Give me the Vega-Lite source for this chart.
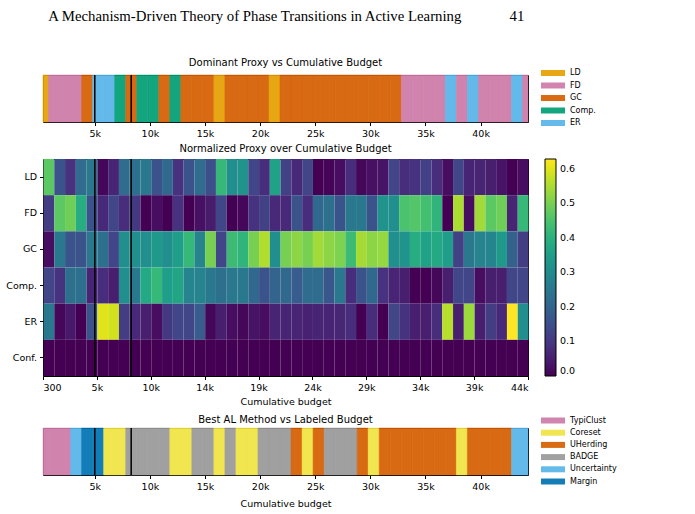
{
  "$schema": "https://vega.github.io/schema/vega-lite/v6.json",
  "background": "white",
  "padding": {"left": 5, "top": 8, "right": 5, "bottom": 5},
  "title": {
    "text": "A Mechanism-Driven Theory of Phase Transitions in Active Learning\u00a0\u00a0\u00a0\u00a0\u00a0\u00a0\u00a0\u00a0\u00a0\u00a0\u00a0\u00a0\u00a041",
    "font": "Liberation Serif",
    "fontSize": 14.8,
    "fontWeight": "normal",
    "color": "black",
    "anchor": "start",
    "offset": 34,
    "dx": 43
  },
  "config": {
    "font": "DejaVu Sans",
    "view": {"stroke": "black", "strokeWidth": 1},
    "axis": {
      "labelFont": "DejaVu Sans", "labelFontSize": 9.5, "labelColor": "black",
      "tickColor": "black", "tickSize": 3.5, "labelPadding": 3,
      "domain": false, "grid": false,
      "titleFont": "DejaVu Sans", "titleFontSize": 9.5, "titleFontWeight": "normal", "titleColor": "black", "titlePadding": 5
    },
    "title": {"font": "DejaVu Sans", "fontSize": 10, "fontWeight": "normal", "color": "black", "offset": 5},
    "legend": {"labelFont": "DejaVu Sans", "labelColor": "black"}
  },
  "datasets": {
    "proxyStrip": [
      {"from": 300, "to": 800, "proxy": "LD"},
      {"from": 800, "to": 1800, "proxy": "FD"},
      {"from": 1800, "to": 2800, "proxy": "FD"},
      {"from": 2800, "to": 3800, "proxy": "FD"},
      {"from": 3800, "to": 4800, "proxy": "GC"},
      {"from": 4800, "to": 5800, "proxy": "ER"},
      {"from": 5800, "to": 6800, "proxy": "ER"},
      {"from": 6800, "to": 7800, "proxy": "Comp."},
      {"from": 7800, "to": 8800, "proxy": "GC"},
      {"from": 8800, "to": 9800, "proxy": "Comp."},
      {"from": 9800, "to": 10800, "proxy": "Comp."},
      {"from": 10800, "to": 11800, "proxy": "GC"},
      {"from": 11800, "to": 12800, "proxy": "Comp."},
      {"from": 12800, "to": 13800, "proxy": "GC"},
      {"from": 13800, "to": 14800, "proxy": "GC"},
      {"from": 14800, "to": 15800, "proxy": "GC"},
      {"from": 15800, "to": 16800, "proxy": "LD"},
      {"from": 16800, "to": 17800, "proxy": "GC"},
      {"from": 17800, "to": 18800, "proxy": "GC"},
      {"from": 18800, "to": 19800, "proxy": "GC"},
      {"from": 19800, "to": 20800, "proxy": "GC"},
      {"from": 20800, "to": 21800, "proxy": "LD"},
      {"from": 21800, "to": 22800, "proxy": "GC"},
      {"from": 22800, "to": 23800, "proxy": "GC"},
      {"from": 23800, "to": 24800, "proxy": "GC"},
      {"from": 24800, "to": 25800, "proxy": "GC"},
      {"from": 25800, "to": 26800, "proxy": "GC"},
      {"from": 26800, "to": 27800, "proxy": "GC"},
      {"from": 27800, "to": 28800, "proxy": "GC"},
      {"from": 28800, "to": 29800, "proxy": "GC"},
      {"from": 29800, "to": 30800, "proxy": "GC"},
      {"from": 30800, "to": 31800, "proxy": "GC"},
      {"from": 31800, "to": 32800, "proxy": "GC"},
      {"from": 32800, "to": 33800, "proxy": "FD"},
      {"from": 33800, "to": 34800, "proxy": "FD"},
      {"from": 34800, "to": 35800, "proxy": "FD"},
      {"from": 35800, "to": 36800, "proxy": "FD"},
      {"from": 36800, "to": 37800, "proxy": "ER"},
      {"from": 37800, "to": 38800, "proxy": "FD"},
      {"from": 38800, "to": 39800, "proxy": "ER"},
      {"from": 39800, "to": 40800, "proxy": "FD"},
      {"from": 40800, "to": 41800, "proxy": "FD"},
      {"from": 41800, "to": 42800, "proxy": "FD"},
      {"from": 42800, "to": 43800, "proxy": "ER"},
      {"from": 43800, "to": 44300, "proxy": "FD"}
    ],
    "methodStrip": [
      {"from": 300, "to": 800, "method": "TypiClust"},
      {"from": 800, "to": 1800, "method": "TypiClust"},
      {"from": 1800, "to": 2800, "method": "TypiClust"},
      {"from": 2800, "to": 3800, "method": "Uncertainty"},
      {"from": 3800, "to": 4800, "method": "Margin"},
      {"from": 4800, "to": 5800, "method": "Margin"},
      {"from": 5800, "to": 6800, "method": "Coreset"},
      {"from": 6800, "to": 7800, "method": "Coreset"},
      {"from": 7800, "to": 8800, "method": "BADGE"},
      {"from": 8800, "to": 9800, "method": "BADGE"},
      {"from": 9800, "to": 10800, "method": "BADGE"},
      {"from": 10800, "to": 11800, "method": "BADGE"},
      {"from": 11800, "to": 12800, "method": "Coreset"},
      {"from": 12800, "to": 13800, "method": "Coreset"},
      {"from": 13800, "to": 14800, "method": "BADGE"},
      {"from": 14800, "to": 15800, "method": "BADGE"},
      {"from": 15800, "to": 16800, "method": "Coreset"},
      {"from": 16800, "to": 17800, "method": "BADGE"},
      {"from": 17800, "to": 18800, "method": "Coreset"},
      {"from": 18800, "to": 19800, "method": "Coreset"},
      {"from": 19800, "to": 20800, "method": "BADGE"},
      {"from": 20800, "to": 21800, "method": "BADGE"},
      {"from": 21800, "to": 22800, "method": "BADGE"},
      {"from": 22800, "to": 23800, "method": "UHerding"},
      {"from": 23800, "to": 24800, "method": "Coreset"},
      {"from": 24800, "to": 25800, "method": "UHerding"},
      {"from": 25800, "to": 26800, "method": "BADGE"},
      {"from": 26800, "to": 27800, "method": "BADGE"},
      {"from": 27800, "to": 28800, "method": "BADGE"},
      {"from": 28800, "to": 29800, "method": "UHerding"},
      {"from": 29800, "to": 30800, "method": "Coreset"},
      {"from": 30800, "to": 31800, "method": "UHerding"},
      {"from": 31800, "to": 32800, "method": "UHerding"},
      {"from": 32800, "to": 33800, "method": "UHerding"},
      {"from": 33800, "to": 34800, "method": "UHerding"},
      {"from": 34800, "to": 35800, "method": "UHerding"},
      {"from": 35800, "to": 36800, "method": "UHerding"},
      {"from": 36800, "to": 37800, "method": "UHerding"},
      {"from": 37800, "to": 38800, "method": "Coreset"},
      {"from": 38800, "to": 39800, "method": "UHerding"},
      {"from": 39800, "to": 40800, "method": "UHerding"},
      {"from": 40800, "to": 41800, "method": "UHerding"},
      {"from": 41800, "to": 42800, "method": "UHerding"},
      {"from": 42800, "to": 43800, "method": "Uncertainty"},
      {"from": 43800, "to": 44300, "method": "Uncertainty"}
    ],
    "phases": [{"budget": 5000}, {"budget": 8300}],
    "phasesIdx": [{"i": 4.81}, {"i": 8.18}],
    "heat": [
      {"i":0,"proxy":"LD","v":0.47},{"i":1,"proxy":"LD","v":0.16},{"i":2,"proxy":"LD","v":0.09},{"i":3,"proxy":"LD","v":0.22},{"i":4,"proxy":"LD","v":0.25},
      {"i":5,"proxy":"LD","v":0.01},{"i":6,"proxy":"LD","v":0.06},{"i":7,"proxy":"LD","v":0.22},{"i":8,"proxy":"LD","v":0.23},{"i":9,"proxy":"LD","v":0.25},
      {"i":10,"proxy":"LD","v":0.16},{"i":11,"proxy":"LD","v":0.21},{"i":12,"proxy":"LD","v":0.09},{"i":13,"proxy":"LD","v":0.16},{"i":14,"proxy":"LD","v":0.22},
      {"i":15,"proxy":"LD","v":0.15},{"i":16,"proxy":"LD","v":0.42},{"i":17,"proxy":"LD","v":0.31},{"i":18,"proxy":"LD","v":0.32},{"i":19,"proxy":"LD","v":0.13},
      {"i":20,"proxy":"LD","v":0.08},{"i":21,"proxy":"LD","v":0.36},{"i":22,"proxy":"LD","v":0.12},{"i":23,"proxy":"LD","v":0.07},{"i":24,"proxy":"LD","v":0.13},
      {"i":25,"proxy":"LD","v":0.0},{"i":26,"proxy":"LD","v":0.005},{"i":27,"proxy":"LD","v":0.02},{"i":28,"proxy":"LD","v":0.08},{"i":29,"proxy":"LD","v":0.01},
      {"i":30,"proxy":"LD","v":0.025},{"i":31,"proxy":"LD","v":0.03},{"i":32,"proxy":"LD","v":0.13},{"i":33,"proxy":"LD","v":0.08},{"i":34,"proxy":"LD","v":0.09},
      {"i":35,"proxy":"LD","v":0.12},{"i":36,"proxy":"LD","v":0.08},{"i":37,"proxy":"LD","v":0.02},{"i":38,"proxy":"LD","v":0.13},{"i":39,"proxy":"LD","v":0.06},
      {"i":40,"proxy":"LD","v":0.06},{"i":41,"proxy":"LD","v":0.05},{"i":42,"proxy":"LD","v":0.03},{"i":43,"proxy":"LD","v":0.0},{"i":44,"proxy":"LD","v":0.02},

      {"i":0,"proxy":"FD","v":0.11},{"i":1,"proxy":"FD","v":0.47},{"i":2,"proxy":"FD","v":0.49},{"i":3,"proxy":"FD","v":0.39},{"i":4,"proxy":"FD","v":0.16},
      {"i":5,"proxy":"FD","v":0.07},{"i":6,"proxy":"FD","v":0.13},{"i":7,"proxy":"FD","v":0.08},{"i":8,"proxy":"FD","v":0.10},{"i":9,"proxy":"FD","v":0.0},
      {"i":10,"proxy":"FD","v":0.02},{"i":11,"proxy":"FD","v":0.0},{"i":12,"proxy":"FD","v":0.09},{"i":13,"proxy":"FD","v":0.0},{"i":14,"proxy":"FD","v":0.025},
      {"i":15,"proxy":"FD","v":0.045},{"i":16,"proxy":"FD","v":0.13},{"i":17,"proxy":"FD","v":0.0},{"i":18,"proxy":"FD","v":0.01},{"i":19,"proxy":"FD","v":0.09},
      {"i":20,"proxy":"FD","v":0.12},{"i":21,"proxy":"FD","v":0.07},{"i":22,"proxy":"FD","v":0.07},{"i":23,"proxy":"FD","v":0.16},{"i":24,"proxy":"FD","v":0.08},
      {"i":25,"proxy":"FD","v":0.21},{"i":26,"proxy":"FD","v":0.23},{"i":27,"proxy":"FD","v":0.16},{"i":28,"proxy":"FD","v":0.25},{"i":29,"proxy":"FD","v":0.25},
      {"i":30,"proxy":"FD","v":0.16},{"i":31,"proxy":"FD","v":0.32},{"i":32,"proxy":"FD","v":0.31},{"i":33,"proxy":"FD","v":0.45},{"i":34,"proxy":"FD","v":0.46},
      {"i":35,"proxy":"FD","v":0.44},{"i":36,"proxy":"FD","v":0.41},{"i":37,"proxy":"FD","v":0.0},{"i":38,"proxy":"FD","v":0.55},{"i":39,"proxy":"FD","v":0.02},
      {"i":40,"proxy":"FD","v":0.54},{"i":41,"proxy":"FD","v":0.47},{"i":42,"proxy":"FD","v":0.49},{"i":43,"proxy":"FD","v":0.06},{"i":44,"proxy":"FD","v":0.42},

      {"i":0,"proxy":"GC","v":0.02},{"i":1,"proxy":"GC","v":0.25},{"i":2,"proxy":"GC","v":0.16},{"i":3,"proxy":"GC","v":0.16},{"i":4,"proxy":"GC","v":0.25},
      {"i":5,"proxy":"GC","v":0.23},{"i":6,"proxy":"GC","v":0.13},{"i":7,"proxy":"GC","v":0.31},{"i":8,"proxy":"GC","v":0.31},{"i":9,"proxy":"GC","v":0.31},
      {"i":10,"proxy":"GC","v":0.34},{"i":11,"proxy":"GC","v":0.31},{"i":12,"proxy":"GC","v":0.35},{"i":13,"proxy":"GC","v":0.42},{"i":14,"proxy":"GC","v":0.28},
      {"i":15,"proxy":"GC","v":0.5},{"i":16,"proxy":"GC","v":0.13},{"i":17,"proxy":"GC","v":0.43},{"i":18,"proxy":"GC","v":0.41},{"i":19,"proxy":"GC","v":0.5},
      {"i":20,"proxy":"GC","v":0.555},{"i":21,"proxy":"GC","v":0.31},{"i":22,"proxy":"GC","v":0.5},{"i":23,"proxy":"GC","v":0.52},{"i":24,"proxy":"GC","v":0.5},
      {"i":25,"proxy":"GC","v":0.54},{"i":26,"proxy":"GC","v":0.52},{"i":27,"proxy":"GC","v":0.505},{"i":28,"proxy":"GC","v":0.43},{"i":29,"proxy":"GC","v":0.545},
      {"i":30,"proxy":"GC","v":0.52},{"i":31,"proxy":"GC","v":0.53},{"i":32,"proxy":"GC","v":0.31},{"i":33,"proxy":"GC","v":0.32},{"i":34,"proxy":"GC","v":0.39},
      {"i":35,"proxy":"GC","v":0.36},{"i":36,"proxy":"GC","v":0.38},{"i":37,"proxy":"GC","v":0.35},{"i":38,"proxy":"GC","v":0.12},{"i":39,"proxy":"GC","v":0.25},
      {"i":40,"proxy":"GC","v":0.28},{"i":41,"proxy":"GC","v":0.28},{"i":42,"proxy":"GC","v":0.34},{"i":43,"proxy":"GC","v":0.19},{"i":44,"proxy":"GC","v":0.11},

      {"i":0,"proxy":"Comp.","v":0.13},{"i":1,"proxy":"Comp.","v":0.09},{"i":2,"proxy":"Comp.","v":0.23},{"i":3,"proxy":"Comp.","v":0.23},{"i":4,"proxy":"Comp.","v":0.06},
      {"i":5,"proxy":"Comp.","v":0.08},{"i":6,"proxy":"Comp.","v":0.05},{"i":7,"proxy":"Comp.","v":0.31},{"i":8,"proxy":"Comp.","v":0.25},{"i":9,"proxy":"Comp.","v":0.38},
      {"i":10,"proxy":"Comp.","v":0.42},{"i":11,"proxy":"Comp.","v":0.35},{"i":12,"proxy":"Comp.","v":0.37},{"i":13,"proxy":"Comp.","v":0.28},{"i":14,"proxy":"Comp.","v":0.28},
      {"i":15,"proxy":"Comp.","v":0.25},{"i":16,"proxy":"Comp.","v":0.23},{"i":17,"proxy":"Comp.","v":0.25},{"i":18,"proxy":"Comp.","v":0.25},{"i":19,"proxy":"Comp.","v":0.21},
      {"i":20,"proxy":"Comp.","v":0.16},{"i":21,"proxy":"Comp.","v":0.2},{"i":22,"proxy":"Comp.","v":0.21},{"i":23,"proxy":"Comp.","v":0.18},{"i":24,"proxy":"Comp.","v":0.22},
      {"i":25,"proxy":"Comp.","v":0.22},{"i":26,"proxy":"Comp.","v":0.17},{"i":27,"proxy":"Comp.","v":0.25},{"i":28,"proxy":"Comp.","v":0.08},{"i":29,"proxy":"Comp.","v":0.16},
      {"i":30,"proxy":"Comp.","v":0.21},{"i":31,"proxy":"Comp.","v":0.09},{"i":32,"proxy":"Comp.","v":0.06},{"i":33,"proxy":"Comp.","v":0.05},{"i":34,"proxy":"Comp.","v":0.0},
      {"i":35,"proxy":"Comp.","v":0.0},{"i":36,"proxy":"Comp.","v":0.01},{"i":37,"proxy":"Comp.","v":0.05},{"i":38,"proxy":"Comp.","v":0.13},{"i":39,"proxy":"Comp.","v":0.13},
      {"i":40,"proxy":"Comp.","v":0.02},{"i":41,"proxy":"Comp.","v":0.05},{"i":42,"proxy":"Comp.","v":0.05},{"i":43,"proxy":"Comp.","v":0.13},{"i":44,"proxy":"Comp.","v":0.13},

      {"i":0,"proxy":"ER","v":0.25},{"i":1,"proxy":"ER","v":0.01},{"i":2,"proxy":"ER","v":0.04},{"i":3,"proxy":"ER","v":0.0},{"i":4,"proxy":"ER","v":0.16},
      {"i":5,"proxy":"ER","v":0.6},{"i":6,"proxy":"ER","v":0.585},{"i":7,"proxy":"ER","v":0.11},{"i":8,"proxy":"ER","v":0.07},{"i":9,"proxy":"ER","v":0.05},
      {"i":10,"proxy":"ER","v":0.02},{"i":11,"proxy":"ER","v":0.1},{"i":12,"proxy":"ER","v":0.13},{"i":13,"proxy":"ER","v":0.13},{"i":14,"proxy":"ER","v":0.18},
      {"i":15,"proxy":"ER","v":0.01},{"i":16,"proxy":"ER","v":0.05},{"i":17,"proxy":"ER","v":0.02},{"i":18,"proxy":"ER","v":0.01},{"i":19,"proxy":"ER","v":0.03},
      {"i":20,"proxy":"ER","v":0.02},{"i":21,"proxy":"ER","v":0.06},{"i":22,"proxy":"ER","v":0.06},{"i":23,"proxy":"ER","v":0.06},{"i":24,"proxy":"ER","v":0.055},
      {"i":25,"proxy":"ER","v":0.06},{"i":26,"proxy":"ER","v":0.06},{"i":27,"proxy":"ER","v":0.065},{"i":28,"proxy":"ER","v":0.08},{"i":29,"proxy":"ER","v":0.0},
      {"i":30,"proxy":"ER","v":0.08},{"i":31,"proxy":"ER","v":0.0},{"i":32,"proxy":"ER","v":0.13},{"i":33,"proxy":"ER","v":0.09},{"i":34,"proxy":"ER","v":0.05},
      {"i":35,"proxy":"ER","v":0.05},{"i":36,"proxy":"ER","v":0.08},{"i":37,"proxy":"ER","v":0.56},{"i":38,"proxy":"ER","v":0.05},{"i":39,"proxy":"ER","v":0.535},
      {"i":40,"proxy":"ER","v":0.05},{"i":41,"proxy":"ER","v":0.11},{"i":42,"proxy":"ER","v":0.07},{"i":43,"proxy":"ER","v":0.628},{"i":44,"proxy":"ER","v":0.31},

      {"i":0,"proxy":"Conf.","v":0},{"i":1,"proxy":"Conf.","v":0},{"i":2,"proxy":"Conf.","v":0},{"i":3,"proxy":"Conf.","v":0},{"i":4,"proxy":"Conf.","v":0},
      {"i":5,"proxy":"Conf.","v":0},{"i":6,"proxy":"Conf.","v":0},{"i":7,"proxy":"Conf.","v":0},{"i":8,"proxy":"Conf.","v":0},{"i":9,"proxy":"Conf.","v":0},
      {"i":10,"proxy":"Conf.","v":0},{"i":11,"proxy":"Conf.","v":0},{"i":12,"proxy":"Conf.","v":0},{"i":13,"proxy":"Conf.","v":0},{"i":14,"proxy":"Conf.","v":0},
      {"i":15,"proxy":"Conf.","v":0},{"i":16,"proxy":"Conf.","v":0},{"i":17,"proxy":"Conf.","v":0},{"i":18,"proxy":"Conf.","v":0},{"i":19,"proxy":"Conf.","v":0},
      {"i":20,"proxy":"Conf.","v":0},{"i":21,"proxy":"Conf.","v":0},{"i":22,"proxy":"Conf.","v":0},{"i":23,"proxy":"Conf.","v":0},{"i":24,"proxy":"Conf.","v":0},
      {"i":25,"proxy":"Conf.","v":0},{"i":26,"proxy":"Conf.","v":0},{"i":27,"proxy":"Conf.","v":0},{"i":28,"proxy":"Conf.","v":0},{"i":29,"proxy":"Conf.","v":0},
      {"i":30,"proxy":"Conf.","v":0},{"i":31,"proxy":"Conf.","v":0},{"i":32,"proxy":"Conf.","v":0},{"i":33,"proxy":"Conf.","v":0},{"i":34,"proxy":"Conf.","v":0},
      {"i":35,"proxy":"Conf.","v":0},{"i":36,"proxy":"Conf.","v":0},{"i":37,"proxy":"Conf.","v":0},{"i":38,"proxy":"Conf.","v":0},{"i":39,"proxy":"Conf.","v":0},
      {"i":40,"proxy":"Conf.","v":0},{"i":41,"proxy":"Conf.","v":0},{"i":42,"proxy":"Conf.","v":0},{"i":43,"proxy":"Conf.","v":0},{"i":44,"proxy":"Conf.","v":0}
    ]
  },
  "spacing": 4,
  "resolve": {"scale": {"color": "independent", "stroke": "independent", "x": "independent"}, "legend": {"color": "independent"}},
  "vconcat": [
    {
      "width": 485, "height": 47,
      "title": {"text": "Dominant Proxy vs Cumulative Budget", "offset": 1},
      "layer": [
        {
          "data": {"name": "proxyStrip"},
          "mark": {"type": "rect", "opacity": 0.92, "strokeWidth": 0.5},
          "encoding": {
            "x": {"field": "from", "type": "quantitative",
              "scale": {"domain": [300, 44300], "nice": false, "zero": false},
              "axis": {"values": [5000, 10000, 15000, 20000, 25000, 30000, 35000, 40000], "labelExpr": "datum.value / 1000 + 'k'", "title": null}},
            "x2": {"field": "to"},
            "color": {"field": "proxy", "type": "nominal",
              "scale": {"domain": ["LD", "FD", "GC", "Comp.", "ER"], "range": ["#E69F00", "#CC79A7", "#D55E00", "#009E73", "#56B4E9"]},
              "legend": {"title": null, "orient": "none", "legendX": 506, "legendY": -6,
                "symbolType": "M-4,-1H4V1H-4Z", "symbolSize": 36, "symbolStrokeWidth": 0, "symbolOpacity": 0.92,
                "labelFontSize": 8, "labelOffset": 13, "rowPadding": 4.5, "padding": 0}},
            "stroke": {"field": "proxy", "type": "nominal",
              "scale": {"domain": ["LD", "FD", "GC", "Comp.", "ER"], "range": ["#E69F00", "#CC79A7", "#D55E00", "#009E73", "#56B4E9"]},
              "legend": null}
          }
        },
        {
          "data": {"name": "phases"},
          "mark": {"type": "rule", "color": "black", "strokeWidth": 1.5},
          "encoding": {"x": {"field": "budget", "type": "quantitative"}}
        }
      ]
    },
    {
      "width": 485, "height": 217,
      "title": {"text": "Normalized Proxy over Cumulative Budget", "offset": 4},
      "layer": [
        {
          "data": {"name": "heat"},
          "mark": "rect",
          "encoding": {
            "x": {"field": "i", "type": "quantitative", "bin": {"binned": true, "step": 1},
              "scale": {"domain": [0, 45], "nice": false, "zero": false},
              "axis": {"values": [0, 5, 10, 15, 20, 25, 30, 35, 40, 45],
                "labelExpr": "['300','5k','10k','14k','19k','24k','29k','34k','39k','44k'][round(datum.value / 5)]",
                "title": "Cumulative budget", "titlePadding": 4}},
            "y": {"field": "proxy", "type": "nominal", "sort": ["LD", "FD", "GC", "Comp.", "ER", "Conf."],
              "scale": {"paddingInner": 0, "paddingOuter": 0}, "axis": {"title": null}},
            "color": {"field": "v", "type": "quantitative",
              "scale": {"scheme": "viridis", "domain": [0, 0.628], "nice": false, "zero": false},
              "legend": {"title": null, "orient": "none", "legendX": 502, "legendY": 0, "direction": "vertical",
                "gradientLength": 217, "gradientThickness": 11, "gradientStrokeColor": "black", "gradientStrokeWidth": 1,
                "values": [0, 0.1, 0.2, 0.3, 0.4, 0.5, 0.6], "format": ".1f", "labelFontSize": 9.5, "labelOffset": 4, "padding": 0}}
          }
        },
        {
          "data": {"name": "phasesIdx"},
          "mark": {"type": "rule", "color": "black", "strokeWidth": 1.5},
          "encoding": {"x": {"field": "i", "type": "quantitative"}}
        }
      ]
    },
    {
      "width": 485, "height": 47,
      "title": {"text": "Best AL Method vs Labeled Budget", "offset": -14},
      "layer": [
        {
          "data": {"name": "methodStrip"},
          "mark": {"type": "rect", "opacity": 0.92, "strokeWidth": 0.5},
          "encoding": {
            "x": {"field": "from", "type": "quantitative",
              "scale": {"domain": [300, 44300], "nice": false, "zero": false},
              "axis": {"values": [5000, 10000, 15000, 20000, 25000, 30000, 35000, 40000], "labelExpr": "datum.value / 1000 + 'k'", "title": "Cumulative budget", "titlePadding": 7}},
            "x2": {"field": "to"},
            "color": {"field": "method", "type": "nominal",
              "scale": {"domain": ["TypiClust", "Coreset", "UHerding", "BADGE", "Uncertainty", "Margin"], "range": ["#CC79A7", "#F0E442", "#D55E00", "#999999", "#56B4E9", "#0072B2"]},
              "legend": {"title": null, "orient": "none", "legendX": 500, "legendY": -17.5,
                "symbolType": "M-4,-1H4V1H-4Z", "symbolSize": 36, "symbolStrokeWidth": 0, "symbolOpacity": 0.92,
                "labelFontSize": 8, "labelOffset": 13, "rowPadding": 4.2, "padding": 6}},
            "stroke": {"field": "method", "type": "nominal",
              "scale": {"domain": ["TypiClust", "Coreset", "UHerding", "BADGE", "Uncertainty", "Margin"], "range": ["#CC79A7", "#F0E442", "#D55E00", "#999999", "#56B4E9", "#0072B2"]},
              "legend": null}
          }
        },
        {
          "data": {"name": "phases"},
          "mark": {"type": "rule", "color": "black", "strokeWidth": 1.5},
          "encoding": {"x": {"field": "budget", "type": "quantitative"}}
        }
      ]
    }
  ]
}
